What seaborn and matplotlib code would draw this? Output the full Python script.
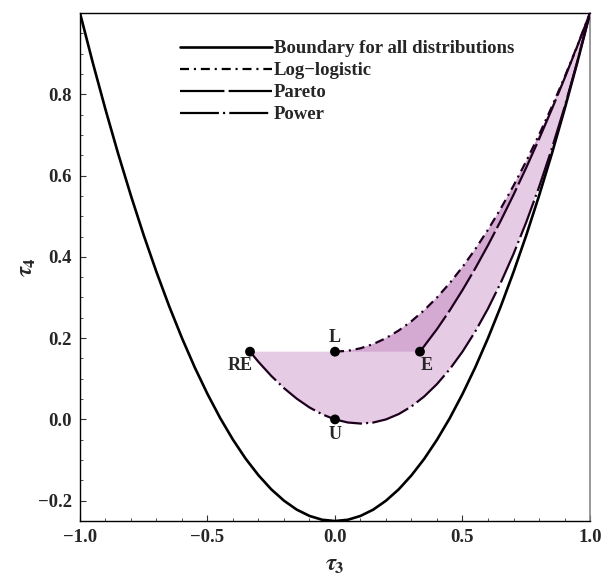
import numpy as np
import pandas as pd
import matplotlib
matplotlib.use("Agg")
import matplotlib.pyplot as plt
from matplotlib.ticker import MultipleLocator
import seaborn as sns

# L-moment ratio values
bound_t3 = [-1.0, -0.95, -0.9, -0.85, -0.8, -0.75, -0.7, -0.65, -0.6, -0.55, -0.5,
            -0.45, -0.4, -0.35, -0.3, -0.25, -0.2, -0.15, -0.1, -0.05, 0.0,
            0.05, 0.1, 0.15, 0.2, 0.25, 0.3, 0.35, 0.4, 0.45, 0.5,
            0.55, 0.6, 0.65, 0.7, 0.75, 0.8, 0.85, 0.9, 0.95, 1.0]
bound_t4 = [1.0, 0.878, 0.7625, 0.653, 0.55, 0.453, 0.3625, 0.278, 0.2, 0.128, 0.0625,
            0.003, -0.05, -0.097, -0.1375, -0.172, -0.2, -0.222, -0.2375, -0.247, -0.25,
            -0.247, -0.2375, -0.222, -0.2, -0.172, -0.1375, -0.097, -0.05, 0.003, 0.0625,
            0.128, 0.2, 0.278, 0.3625, 0.453, 0.55, 0.653, 0.7625, 0.878, 1.0]

loglog_t3 = [0.0, 0.05, 0.1, 0.15, 0.2, 0.25, 0.3, 0.35, 0.4, 0.45, 0.5,
             0.55, 0.6, 0.65, 0.7, 0.75, 0.8, 0.85, 0.9, 0.95, 1.0]
loglog_t4 = [0.1667, 0.1688, 0.175, 0.1854, 0.2, 0.2188, 0.2417, 0.2688, 0.3, 0.3354, 0.375,
             0.4188, 0.4667, 0.5188, 0.575, 0.6354, 0.7, 0.7688, 0.8417, 0.9188, 1.0]

pareto_t3 = [0.3333, 0.4, 0.45, 0.5, 0.55, 0.6, 0.65, 0.7, 0.75, 0.8, 0.85, 0.9, 0.95, 1.0]
pareto_t4 = [0.1667, 0.2222, 0.2683, 0.3182, 0.3716, 0.4286, 0.4889, 0.5526, 0.6196,
             0.6897, 0.7628, 0.839, 0.9181, 1.0]

power_t3 = [-0.3333, -0.3, -0.25, -0.2, -0.15, -0.1, -0.05, 0.0, 0.05, 0.1, 0.15, 0.2,
            0.25, 0.3, 0.35, 0.4, 0.45, 0.5, 0.55, 0.6, 0.65, 0.7, 0.75, 0.8, 0.85,
            0.9, 0.95, 1.0]
power_t4 = [0.1667, 0.1415, 0.1071, 0.0769, 0.051, 0.0294, 0.0124, 0.0, -0.0076, -0.0102,
            -0.0077, 0.0, 0.0132, 0.0319, 0.0565, 0.087, 0.1236, 0.1667, 0.2163, 0.2727,
            0.3362, 0.407, 0.4853, 0.5714, 0.6657, 0.7683, 0.8796, 1.0]

point_names = ["RE", "L", "E", "U"]
point_t3 = [-0.3333, 0.0, 0.3333, 0.0]
point_t4 = [0.1667, 0.1667, 0.1667, 0.0]

sns.set_theme(style="ticks")
plt.rcParams["font.family"] = ["Liberation Serif", "DejaVu Serif"]
plt.rcParams["font.weight"] = "bold"
plt.rcParams["mathtext.fontset"] = "stix"
plt.rcParams["lines.scale_dashes"] = False

fig = plt.figure(figsize=(6.01, 5.78), dpi=100)
ax = fig.add_axes([0.1331, 0.0986, 0.8486, 0.8789])

light = "#e6cbe5"
dark = "#d4a9d2"
curve_col = "#1e001e"

# light band: power curve below, 1/6 line then log-logistic above
upper_x = [point_t3[0]] + loglog_t3
upper_y = [point_t4[0]] + loglog_t4
ax.fill(power_t3 + upper_x[::-1], power_t4 + upper_y[::-1], color=light, lw=0, zorder=1)
# darker band between log-logistic and Pareto
ax.fill(loglog_t3 + pareto_t3[::-1], loglog_t4 + pareto_t4[::-1], color=dark, lw=0, zorder=2)

sns.lineplot(x=bound_t3, y=bound_t4, ax=ax, color="black", lw=1.9,
             label="Boundary for all distributions", zorder=4)
sns.lineplot(x=loglog_t3, y=loglog_t4, ax=ax, color=curve_col, lw=1.6,
             linestyle=(0, (6.5, 3.5, 1.5, 3.5)), label="Log\u2212logistic", zorder=4)
sns.lineplot(x=pareto_t3, y=pareto_t4, ax=ax, color=curve_col, lw=1.6,
             linestyle=(0, (32, 3)), label="Pareto", zorder=4)
sns.lineplot(x=power_t3, y=power_t4, ax=ax, color=curve_col, lw=1.6,
             linestyle=(0, (28, 3, 1.5, 3)), label="Power", zorder=4)

sns.scatterplot(x=point_t3, y=point_t4, ax=ax, color="black", s=50,
                edgecolor="none", zorder=5, legend=False)
offsets = {"RE": (-7, -10), "L": (0, 10), "E": (5, -10), "U": (0, -11)}
for name, x, y in zip(point_names, point_t3, point_t4):
    ax.annotate(name, (x, y), xytext=offsets[name], textcoords="offset points",
                ha="center", va="center", fontsize=13, fontweight="bold")

ax.set_xlim(-1.0, 1.0)
ax.set_ylim(-0.25, 1.0)
ax.set_xticks([-1.0, -0.5, 0.0, 0.5, 1.0])
ax.set_yticks([-0.2, 0.0, 0.2, 0.4, 0.6, 0.8])
ax.xaxis.set_minor_locator(MultipleLocator(0.1))
ax.yaxis.set_minor_locator(MultipleLocator(0.05))
ax.tick_params(which="both", direction="in", top=False, right=False,
               labelsize=13.5, pad=6, color="#333333")
ax.tick_params(which="major", length=4, width=0.8)
ax.tick_params(which="minor", length=2.5, width=0.6)
for lab in ax.get_xticklabels() + ax.get_yticklabels():
    lab.set_fontweight("bold")

for side in ["left", "bottom", "top"]:
    ax.spines[side].set_color("black")
    ax.spines[side].set_linewidth(1.0)
ax.spines["right"].set_color("#888888")
ax.spines["right"].set_linewidth(1.2)

ax.set_xlabel(r"$\tau_3$", fontsize=17, labelpad=6)
ax.set_ylabel(r"$\tau_4$", fontsize=17, labelpad=0)

ax.legend(loc="upper left", bbox_to_anchor=(0.171, 0.972), frameon=False,
          prop={"size": 13.5, "weight": "bold"}, handlelength=4.9,
          handletextpad=0.1, labelspacing=0.26, borderpad=0.2)
for line in ax.get_legend().get_lines():
    line.set_color("black")

fig.savefig("out.png", dpi=100)
